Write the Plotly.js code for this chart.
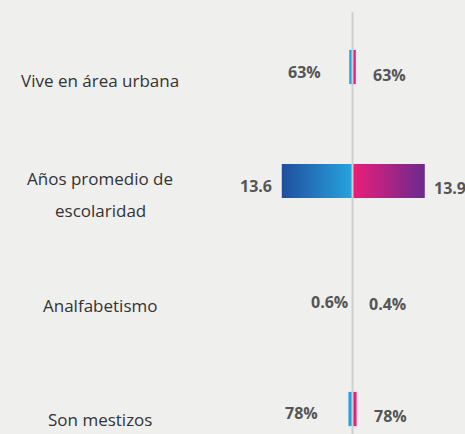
<!DOCTYPE html>
<html><head><meta charset="utf-8">
<script src="https://cdn.plot.ly/plotly-3.0.1.min.js"></script>
<style>html,body{margin:0;padding:0;background:#efefee;}</style>
</head><body><div id="chart" style="width:465px;height:434px;"></div>
<script>
// ---- data ----
const categories = ["Vive en área urbana", "Años promedio de\nescolaridad", "Analfabetismo", "Son mestizos"];
const leftValues = [0.63, 13.6, 0.006, 0.78];
const rightValues = [0.63, 13.9, 0.004, 0.78];
const leftLabels = ["63%", "13.6", "0.6%", "78%"];
const rightLabels = ["63%", "13.9", "0.4%", "78%"];

// ---- layout offsets (px) ----
const leftShiftX = [-26, -8, -2, -28];
const rightShiftX = [15, 7, 14, 15];
const leftShiftY = [-5, -5, -7, -4];
const rightShiftY = [-8, -7, -9, -7];
const catShiftY = [-13, -13, -10, -10];

const idx = categories.map((c, i) => i);
const traces = [
  {type: 'bar', orientation: 'h', y: idx, x: leftValues.map(v => -v), width: 0.3,
   marker: {color: '#2a8fd0', line: {width: 0}}, hoverinfo: 'skip'},
  {type: 'bar', orientation: 'h', y: idx, x: rightValues, width: 0.3,
   marker: {color: '#d0207f', line: {width: 0}}, hoverinfo: 'skip'}
];

const annotations = [];
const valFont = {family: 'Open Sans, sans-serif', size: 16, color: '#555555', weight: 700};
idx.forEach(i => {
  annotations.push({x: -leftValues[i], y: i, xref: 'x', yref: 'y', text: '<b>' + leftLabels[i] + '</b>',
    showarrow: false, xanchor: 'right', yanchor: 'middle', xshift: leftShiftX[i], yshift: leftShiftY[i], font: valFont});
  annotations.push({x: rightValues[i], y: i, xref: 'x', yref: 'y', text: '<b>' + rightLabels[i] + '</b>',
    showarrow: false, xanchor: 'left', yanchor: 'middle', xshift: rightShiftX[i], yshift: rightShiftY[i], font: valFont});
  const lines = categories[i].split('\n');
  lines.forEach((ln, j) => {
    annotations.push({x: 100 / 465, y: i, xref: 'paper', yref: 'y', text: ln, showarrow: false,
      xanchor: 'center', yanchor: 'middle', yshift: catShiftY[i] - (j - (lines.length - 1) / 2) * 32,
      font: {family: 'Open Sans, sans-serif', size: 17, color: '#333333'}});
  });
});

const pxPerUnit = 5.2;
const layout = {
  width: 465, height: 434,
  margin: {l: 0, r: 0, t: 12, b: 0},
  paper_bgcolor: '#efefee', plot_bgcolor: '#efefee',
  barmode: 'overlay', showlegend: false,
  xaxis: {range: [-352.5 / pxPerUnit, 112.5 / pxPerUnit], showgrid: false, zeroline: false,
          showticklabels: false, ticks: '', fixedrange: true},
  yaxis: {range: [3 + 25 / 114, -55 / 114], showgrid: false, zeroline: false,
          showticklabels: false, ticks: '', fixedrange: true},
  shapes: [{type: 'line', xref: 'x', yref: 'paper', x0: 0, x1: 0, y0: 0, y1: 1, layer: 'above',
            line: {color: '#cfcfcf', width: 2}}],
  annotations: annotations
};

Plotly.newPlot('chart', traces, layout, {staticPlot: true, displayModeBar: false}).then(gd => {
  const xa = gd._fullLayout.xaxis;
  const svg = gd.querySelector('svg.main-svg');
  const ns = 'http://www.w3.org/2000/svg';
  let defs = svg.querySelector('defs');
  function grad(id, x1, x2, c1, c2) {
    const g = document.createElementNS(ns, 'linearGradient');
    g.setAttribute('id', id);
    g.setAttribute('gradientUnits', 'userSpaceOnUse');
    g.setAttribute('x1', x1); g.setAttribute('x2', x2);
    g.setAttribute('y1', 0); g.setAttribute('y2', 0);
    [[0, c1], [1, c2]].forEach(([o, c]) => {
      const s = document.createElementNS(ns, 'stop');
      s.setAttribute('offset', o); s.setAttribute('stop-color', c);
      g.appendChild(s);
    });
    defs.appendChild(g);
  }
  const maxL = Math.max(...leftValues), maxR = Math.max(...rightValues);
  grad('gradL', xa.c2p(-maxL), xa.c2p(0), '#1f4f9e', '#27a4de');
  grad('gradR', xa.c2p(0), xa.c2p(maxR), '#ec1e7a', '#6a2a8e');
  gd.querySelectorAll('.barlayer .trace').forEach((t, i) => {
    t.querySelectorAll('path').forEach(p => { p.style.fill = 'url(#' + (i === 0 ? 'gradL' : 'gradR') + ')'; });
  });
});
</script></body></html>
